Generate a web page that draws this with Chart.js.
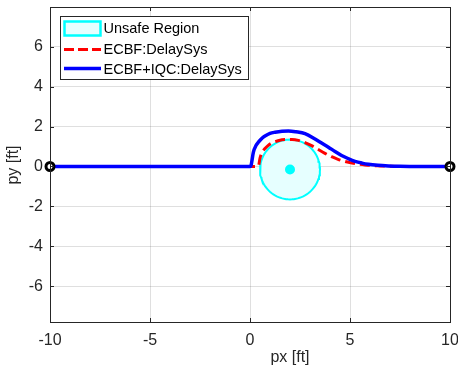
<!DOCTYPE html>
<html>
<head>
<meta charset="utf-8">
<script src="https://cdn.jsdelivr.net/npm/chart.js@4.4.1/dist/chart.umd.min.js"></script>
<style>
  html, body { margin: 0; padding: 0; background: #ffffff; }
  #wrap { width: 458px; height: 369px; }
</style>
</head>
<body>
<div id="wrap"><canvas id="trajChart" width="458" height="369"></canvas></div>
<script>
// Trajectories (px, py in ft)
const blueX = [-10, 0, 0.05, 0.17, 0.3, 0.42, 0.6, 0.75, 1.0, 1.25, 1.6, 1.92, 2.3, 2.75, 3.25, 3.6, 3.92, 4.25, 4.58, 4.9, 5.25, 5.6, 5.92, 6.4, 6.92, 7.5, 8.5, 10];
const blueY = [0, 0, 0.05, 0.72, 1.05, 1.22, 1.42, 1.53, 1.66, 1.72, 1.77, 1.78, 1.74, 1.65, 1.38, 1.16, 0.97, 0.75, 0.55, 0.4, 0.26, 0.17, 0.11, 0.06, 0.03, 0.01, 0, 0];

const redX = [-10, 0, 0.42, 0.5, 0.6, 0.75, 0.9, 1.08, 1.4, 1.75, 2.1, 2.42, 2.75, 3.08, 3.42, 3.75, 4.08, 4.4, 4.75, 5.1, 5.42, 5.75, 6.08, 6.5, 7, 8.5, 10];
const redY = [0, 0, 0.02, 0.42, 0.7, 0.9, 1.05, 1.17, 1.29, 1.35, 1.35, 1.31, 1.2, 1.05, 0.85, 0.66, 0.49, 0.36, 0.25, 0.17, 0.12, 0.08, 0.05, 0.03, 0.01, 0, 0];

// Unsafe region (circle) and start / goal markers
const unsafeCenter = [2, -0.15];
const unsafeRadius = 1.5;
const endpointsX = [-10, 10];
const endpointsY = [0, 0];

// Axis limits and ticks
const xLimits = [-10, 10];
const yLimits = [-7.8, 8];
const xTicks = [-10, -5, 0, 5, 10];
const yTicks = [-6, -4, -2, 0, 2, 4, 6];

const legendLabels = ['Unsafe Region', 'ECBF:DelaySys', 'ECBF+IQC:DelaySys'];

const FONT = '"Liberation Sans", Arial, Helvetica, sans-serif';
const AXIS_COLOR = '#262626';

function toPoints(xs, ys) {
    return xs.map((x, i) => ({ x: x, y: ys[i] }));
}

// Circle outline sampled from the center and radius
function circlePoints(center, r, n) {
    const pts = [];
    for (let i = 0; i <= n; i++) {
        const t = (i / n) * Math.PI * 2;
        pts.push({ x: center[0] + r * Math.cos(t), y: center[1] + r * Math.sin(t) });
    }
    return pts;
}

// Box, inward ticks, axis titles and the MATLAB-style legend
const matlabDecor = {
    id: 'matlabDecor',
    afterDraw(chart) {
        const ctx = chart.ctx;
        const area = chart.chartArea;
        const xs = chart.scales.x;
        const ys = chart.scales.y;
        ctx.save();

        // inward ticks on all four sides
        ctx.strokeStyle = AXIS_COLOR;
        ctx.lineWidth = 1;
        const tl = 4;
        ctx.beginPath();
        xTicks.forEach(v => {
            const px = Math.round(xs.getPixelForValue(v)) + 0.5;
            ctx.moveTo(px, area.bottom); ctx.lineTo(px, area.bottom - tl);
            ctx.moveTo(px, area.top); ctx.lineTo(px, area.top + tl);
        });
        yTicks.forEach(v => {
            const py = Math.round(ys.getPixelForValue(v)) + 0.5;
            ctx.moveTo(area.left, py); ctx.lineTo(area.left + tl, py);
            ctx.moveTo(area.right, py); ctx.lineTo(area.right - tl, py);
        });
        ctx.stroke();

        // box
        ctx.strokeRect(Math.round(area.left) + 0.5, Math.round(area.top) + 0.5,
            Math.round(area.right - area.left), Math.round(area.bottom - area.top));

        // axis titles
        ctx.fillStyle = AXIS_COLOR;
        ctx.font = '16px ' + FONT;
        ctx.textAlign = 'center';
        ctx.textBaseline = 'middle';
        ctx.fillText('px [ft]', 290, 358);
        ctx.save();
        ctx.translate(14, 165);
        ctx.rotate(-Math.PI / 2);
        ctx.fillText('py [ft]', 0, 0);
        ctx.restore();

        // legend
        const lx = 60.5, ly = 16.5, lw = 188, lh = 63;
        ctx.fillStyle = '#ffffff';
        ctx.fillRect(lx, ly, lw, lh);
        ctx.strokeStyle = AXIS_COLOR;
        ctx.lineWidth = 1;
        ctx.strokeRect(lx, ly, lw, lh);

        ctx.fillStyle = '#e6ffff';
        ctx.fillRect(64.5, 21.5, 36, 14);
        ctx.strokeStyle = '#00ffff';
        ctx.lineWidth = 2.5;
        ctx.strokeRect(64.5, 21.5, 36, 14);

        ctx.lineWidth = 3;
        ctx.strokeStyle = '#ff0000';
        ctx.setLineDash([10, 4]);
        ctx.beginPath(); ctx.moveTo(64, 49.5); ctx.lineTo(101, 49.5); ctx.stroke();
        ctx.setLineDash([]);

        ctx.lineWidth = 3.5;
        ctx.strokeStyle = '#0000ff';
        ctx.beginPath(); ctx.moveTo(64, 68.5); ctx.lineTo(101, 68.5); ctx.stroke();

        ctx.fillStyle = '#000000';
        ctx.font = '14.5px ' + FONT;
        ctx.textAlign = 'left';
        ctx.textBaseline = 'middle';
        ctx.fillText(legendLabels[0], 103.5, 29);
        ctx.fillText(legendLabels[1], 103.5, 50);
        ctx.fillText(legendLabels[2], 103.5, 69.5);

        ctx.restore();
    }
};

const ctx = document.getElementById('trajChart').getContext('2d');
new Chart(ctx, {
    type: 'scatter',
    data: {
        datasets: [
            {
                label: 'endpoints',
                data: toPoints(endpointsX, endpointsY),
                showLine: false,
                pointRadius: 4,
                pointBackgroundColor: '#ffffff',
                pointBorderColor: '#000000',
                pointBorderWidth: 3,
                clip: false,
                order: 0
            },
            {
                label: legendLabels[2],
                data: toPoints(blueX, blueY),
                showLine: true,
                borderColor: '#0000ff',
                borderWidth: 3.5,
                pointRadius: 0,
                cubicInterpolationMode: 'monotone',
                order: 1
            },
            {
                label: legendLabels[1],
                data: toPoints(redX, redY),
                showLine: true,
                borderColor: '#ff0000',
                borderWidth: 3,
                borderDash: [10, 5],
                pointRadius: 0,
                cubicInterpolationMode: 'monotone',
                order: 2
            },
            {
                label: 'center',
                data: [{ x: unsafeCenter[0], y: unsafeCenter[1] }],
                showLine: false,
                pointRadius: 5,
                pointBackgroundColor: '#00ffff',
                pointBorderColor: '#00ffff',
                pointBorderWidth: 0,
                order: 3
            },
            {
                label: legendLabels[0],
                data: circlePoints(unsafeCenter, unsafeRadius, 96),
                showLine: true,
                fill: 'shape',
                backgroundColor: '#e6ffff',
                borderColor: '#00ffff',
                borderWidth: 2,
                pointRadius: 0,
                order: 4
            }
        ]
    },
    options: {
        responsive: false,
        animation: false,
        events: [],
        layout: { padding: { top: 7, right: 8, left: 0, bottom: 0 } },
        plugins: {
            legend: { display: false },
            tooltip: { enabled: false }
        },
        scales: {
            x: {
                type: 'linear',
                min: xLimits[0],
                max: xLimits[1],
                afterBuildTicks: s => { s.ticks = xTicks.map(v => ({ value: v })); },
                afterFit: s => { s.height = 47; s.paddingLeft = 0; s.paddingRight = 0; },
                grid: { color: 'rgba(38,38,38,0.15)', drawTicks: false },
                border: { display: false },
                ticks: {
                    color: AXIS_COLOR,
                    font: { family: FONT, size: 16 },
                    padding: 9,
                    maxRotation: 0,
                    autoSkip: false
                }
            },
            y: {
                type: 'linear',
                min: yLimits[0],
                max: yLimits[1],
                afterBuildTicks: s => { s.ticks = yTicks.map(v => ({ value: v })); },
                afterFit: s => { s.width = 50; s.paddingTop = 0; s.paddingBottom = 0; },
                grid: { color: 'rgba(38,38,38,0.15)', drawTicks: false },
                border: { display: false },
                ticks: {
                    color: AXIS_COLOR,
                    font: { family: FONT, size: 16 },
                    padding: 7,
                    autoSkip: false
                }
            }
        }
    },
    plugins: [matlabDecor]
});
</script>
</body>
</html>
